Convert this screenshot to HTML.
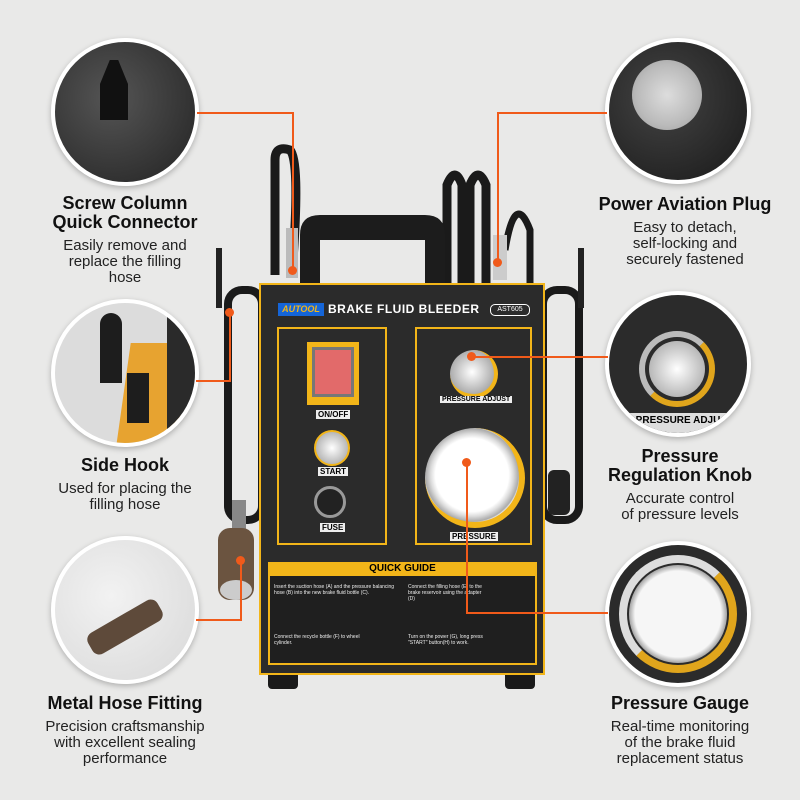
<!DOCTYPE html>
<html><head><meta charset="utf-8"><style>
body{margin:0;width:800px;height:800px;background:#e9e9e8;position:relative;overflow:hidden;font-family:"Liberation Sans",sans-serif}
.c{position:absolute;border-radius:50%;border:4px solid #fff;box-shadow:0 2px 6px rgba(0,0,0,.25);overflow:hidden}
.t{position:absolute;text-align:center;color:#111}
.t b{display:block;font-size:18px;line-height:19px;font-weight:bold}
.t span{display:block;font-size:15px;line-height:16px;color:#222;margin-top:6px}
.ln{position:absolute;background:#f05a1a}
.dot{position:absolute;width:9px;height:9px;border-radius:50%;background:#f05a1a}
.a{position:absolute}
</style></head><body>
<!-- hoses -->
<svg class="a" style="left:0;top:0" width="800" height="800">
<path d="M275 275 V160 Q275 145 290 150 Q300 160 293 260" stroke="#1a1a1a" stroke-width="9" fill="none"/>
<path d="M447 285 V185 Q455 165 462 185 V285" stroke="#1a1a1a" stroke-width="9" fill="none"/>
<path d="M470 285 V185 Q478 165 486 185 V285" stroke="#1a1a1a" stroke-width="9" fill="none"/>
<path d="M505 250 Q515 190 530 230 V300" stroke="#1a1a1a" stroke-width="7" fill="none"/>
<path d="M300 285 V235 Q300 215 320 215 H425 Q445 215 445 235 V285 H425 V240 H320 V285Z" fill="#1c1c1c"/>
<rect x="228" y="290" width="34" height="230" rx="14" fill="none" stroke="#1a1a1a" stroke-width="8"/>
<rect x="543" y="290" width="36" height="230" rx="14" fill="none" stroke="#1a1a1a" stroke-width="8"/>
<rect x="216" y="248" width="6" height="60" fill="#222"/>
<rect x="578" y="248" width="6" height="60" fill="#222"/>
<rect x="232" y="500" width="14" height="40" fill="#888"/>
<rect x="218" y="528" width="36" height="72" rx="12" fill="#6b5440"/>
<ellipse cx="236" cy="590" rx="16" ry="10" fill="#ccc"/>
<rect x="548" y="470" width="22" height="45" rx="6" fill="#222"/>
<rect x="286" y="228" width="12" height="50" fill="#bbb"/>
<rect x="493" y="235" width="14" height="45" fill="#ccc"/>
</svg>
<!-- machine -->
<div class="a" style="left:259px;top:283px;width:286px;height:392px;background:#2b2b2b;border:2px solid #f2b519;box-sizing:border-box"></div>
<div class="a" style="left:268px;top:675px;width:30px;height:14px;background:#1a1a1a;border-radius:0 0 4px 4px"></div>
<div class="a" style="left:505px;top:675px;width:30px;height:14px;background:#1a1a1a;border-radius:0 0 4px 4px"></div>
<div class="a" style="left:278px;top:303px;width:46px;height:13px;background:#1565d8;color:#f2b519;font-size:9px;font-weight:bold;font-style:italic;line-height:13px;text-align:center">AUTOOL</div>
<div class="a" style="left:328px;top:302px;color:#fff;font-size:12px;font-weight:bold;letter-spacing:.5px">BRAKE FLUID BLEEDER</div>
<div class="a" style="left:490px;top:304px;width:38px;height:10px;border:1px solid #fff;border-radius:5px;color:#fff;font-size:7px;line-height:10px;text-align:center">AST605</div>
<div class="a" style="left:277px;top:327px;width:110px;height:218px;border:2px solid #f2b519;box-sizing:border-box"></div>
<div class="a" style="left:415px;top:327px;width:117px;height:218px;border:2px solid #f2b519;box-sizing:border-box"></div>
<div class="a" style="left:307px;top:342px;width:52px;height:63px;background:#f2b519"></div>
<div class="a" style="left:312px;top:347px;width:42px;height:50px;background:#e26a6a;border:3px solid #777;box-sizing:border-box"></div>
<div class="a" style="left:316px;top:410px;background:#eee;font-size:8px;font-weight:bold;padding:0 2px">ON/OFF</div>
<div class="a" style="left:314px;top:430px;width:32px;height:32px;border-radius:50%;background:radial-gradient(#fff,#999);border:2px solid #f2b519"></div>
<div class="a" style="left:318px;top:467px;background:#eee;font-size:8px;font-weight:bold;padding:0 2px">START</div>
<div class="a" style="left:314px;top:486px;width:32px;height:32px;border-radius:50%;background:#222;border:3px solid #999;box-sizing:border-box"></div>
<div class="a" style="left:320px;top:523px;background:#eee;font-size:8px;font-weight:bold;padding:0 2px">FUSE</div>
<div class="a" style="left:450px;top:350px;width:44px;height:44px;border-radius:50%;background:radial-gradient(#fff,#8a8a8a);border-right:4px solid #f2b519;border-bottom:4px solid #f2b519"></div>
<div class="a" style="left:440px;top:396px;background:#eee;font-size:7px;font-weight:bold;padding:0 2px">PRESSURE ADJUST</div>
<div class="a" style="left:425px;top:428px;width:100px;height:100px;border-radius:50%;background:radial-gradient(#fff 55%,#ddd 62%,#aaa 70%,#e8e8e8 72%);border-right:6px solid #f2b519;border-bottom:6px solid #f2b519;box-sizing:border-box"></div>
<div class="a" style="left:450px;top:532px;background:#eee;font-size:8px;font-weight:bold;padding:0 2px">PRESSURE</div>
<div class="a" style="left:268px;top:562px;width:269px;height:103px;background:#1f1f1f;border:2px solid #f2b519;box-sizing:border-box"></div>
<div class="a" style="left:268px;top:562px;width:269px;height:14px;background:#f2b519;font-size:10px;font-weight:bold;text-align:center;line-height:14px">QUICK GUIDE</div>
<div class="a" style="left:274px;top:584px;width:125px;color:#eee;font-size:5px;line-height:6px">Insert the suction hose (A) and the pressure balancing hose (B) into the new brake fluid bottle (C).</div>
<div class="a" style="left:408px;top:584px;width:80px;color:#eee;font-size:5px;line-height:6px">Connect the filling hose (E) to the brake reservoir using the adapter (D)</div>
<div class="a" style="left:274px;top:634px;width:90px;color:#eee;font-size:5px;line-height:6px">Connect the recycle bottle (F) to wheel cylinder.</div>
<div class="a" style="left:408px;top:634px;width:80px;color:#eee;font-size:5px;line-height:6px">Turn on the power (G), long press "START" button(H) to work.</div>
<!-- circles -->
<div class="c" style="left:51px;top:38px;width:140px;height:140px;background:radial-gradient(circle at 40% 40%,#555,#222)"></div>
<div class="a" style="left:100px;top:60px;width:28px;height:60px;background:#111;clip-path:polygon(35% 0,65% 0,100% 40%,100% 100%,0 100%,0 40%)"></div>
<div class="c" style="left:605px;top:38px;width:138px;height:138px;background:radial-gradient(circle at 40% 40%,#444,#181818)"></div>
<div class="a" style="left:632px;top:60px;width:70px;height:70px;border-radius:50%;background:radial-gradient(#ddd,#bbb 60%,#999)"></div>
<div class="c" style="left:51px;top:299px;width:140px;height:140px;background:#dcdcdc">
 <div class="a" style="left:68px;top:40px;width:60px;height:110px;background:#e7a330;transform:skewX(-8deg)"></div>
 <div class="a" style="left:112px;top:10px;width:40px;height:130px;background:#2a2a2a"></div>
 <div class="a" style="left:45px;top:10px;width:22px;height:70px;background:#1d1d1d;border-radius:11px 11px 0 0"></div>
 <div class="a" style="left:72px;top:70px;width:22px;height:50px;background:#1d1d1d"></div>
</div>
<div class="c" style="left:605px;top:291px;width:138px;height:138px;background:#2b2b2b">
 <div class="a" style="left:30px;top:36px;width:76px;height:76px;border-radius:50%;border:6px solid #bbb;border-right-color:#e0a51c;border-bottom-color:#e0a51c;box-sizing:border-box"></div>
 <div class="a" style="left:40px;top:46px;width:56px;height:56px;border-radius:50%;background:radial-gradient(#fff,#9a9a9a)"></div>
 <div class="a" style="left:0;top:118px;width:138px;height:20px;background:#ddd;font-size:10px;font-weight:bold;text-align:center;line-height:16px">PRESSURE ADJU</div>
</div>
<div class="c" style="left:51px;top:536px;width:140px;height:140px;background:radial-gradient(circle at 40% 40%,#f2f2f2,#d8d8d8)"></div>
<div class="a" style="left:85px;top:615px;width:80px;height:24px;background:#5e4a3a;border-radius:8px;transform:rotate(-30deg)"></div>
<div class="c" style="left:605px;top:541px;width:138px;height:138px;background:#2b2b2b">
 <div class="a" style="left:10px;top:10px;width:118px;height:118px;border-radius:50%;border:8px solid #e0a51c;border-left-color:#ddd;border-top-color:#ddd;box-sizing:border-box"></div>
 <div class="a" style="left:20px;top:20px;width:98px;height:98px;border-radius:50%;background:radial-gradient(#f6f6f6 62%,#aaa 70%,#e0e0e0 78%)"></div>
</div>
<!-- lines -->
<div class="ln" style="left:197px;top:112px;width:97px;height:2px"></div>
<div class="ln" style="left:292px;top:112px;width:2px;height:158px"></div>
<div class="dot" style="left:288px;top:266px"></div>
<div class="ln" style="left:497px;top:112px;width:110px;height:2px"></div>
<div class="ln" style="left:497px;top:112px;width:2px;height:150px"></div>
<div class="dot" style="left:493px;top:258px"></div>
<div class="ln" style="left:472px;top:356px;width:136px;height:2px"></div>
<div class="dot" style="left:467px;top:352px"></div>
<div class="ln" style="left:466px;top:462px;width:2px;height:152px"></div>
<div class="ln" style="left:466px;top:612px;width:142px;height:2px"></div>
<div class="dot" style="left:462px;top:458px"></div>
<div class="ln" style="left:229px;top:312px;width:2px;height:70px"></div>
<div class="ln" style="left:196px;top:380px;width:35px;height:2px"></div>
<div class="dot" style="left:225px;top:308px"></div>
<div class="ln" style="left:240px;top:560px;width:2px;height:61px"></div>
<div class="ln" style="left:196px;top:619px;width:46px;height:2px"></div>
<div class="dot" style="left:236px;top:556px"></div>
<!-- text -->
<div class="t" style="left:20px;top:194px;width:210px"><b>Screw Column<br>Quick Connector</b><span>Easily remove and<br>replace the filling<br>hose</span></div>
<div class="t" style="left:565px;top:195px;width:240px"><b>Power Aviation Plug</b><span>Easy to detach,<br>self-locking and<br>securely fastened</span></div>
<div class="t" style="left:20px;top:456px;width:210px"><b>Side Hook</b><span>Used for placing the<br>filling hose</span></div>
<div class="t" style="left:565px;top:447px;width:230px"><b>Pressure<br>Regulation Knob</b><span>Accurate control<br>of pressure levels</span></div>
<div class="t" style="left:10px;top:694px;width:230px"><b>Metal Hose Fitting</b><span>Precision craftsmanship<br>with excellent sealing<br>performance</span></div>
<div class="t" style="left:560px;top:694px;width:240px"><b>Pressure Gauge</b><span>Real-time monitoring<br>of the brake fluid<br>replacement status</span></div>
</body></html>
